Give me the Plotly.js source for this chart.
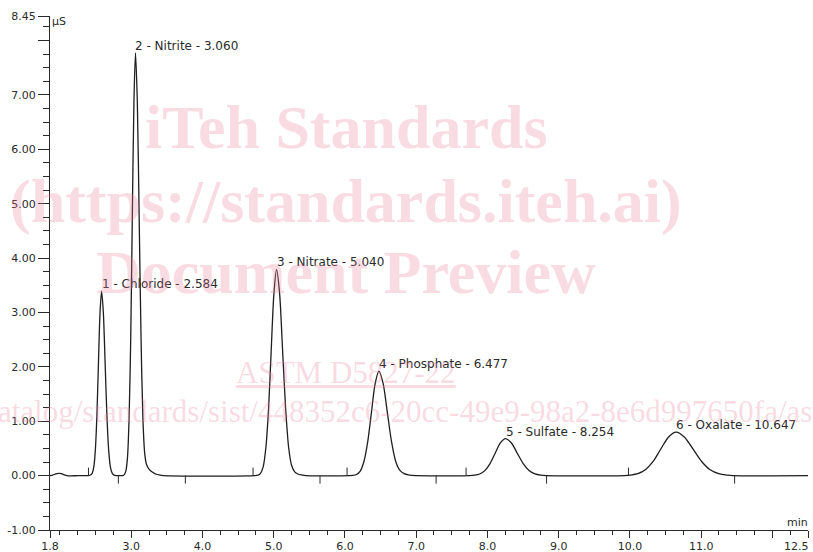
<!DOCTYPE html>
<html><head><meta charset="utf-8">
<script src="https://cdn.plot.ly/plotly-3.0.1.min.js"></script>
<style>html,body{margin:0;padding:0;background:#fff}#chart{width:813px;height:552px}</style>
</head><body><div id="chart"></div>
<script>
// Retention time (min) and conductivity (µS)
const timeMin = [1.86,1.90,1.94,1.98,2.02,2.06,2.10,2.15,2.25,
  2.40,2.430,2.452,2.474,2.496,2.518,2.540,2.562,2.584,2.609,2.634,2.659,2.684,2.709,2.734,2.759,2.79,
  2.84,2.88,2.903,2.925,2.948,2.970,2.993,3.015,3.038,3.060,3.086,3.112,3.138,3.164,3.190,3.216,3.25,3.30,3.35,3.40,3.45,
  4.74,4.778,4.815,4.853,4.890,4.928,4.965,5.003,5.040,5.083,5.125,5.168,5.210,5.253,5.295,5.338,5.40,5.45,
  6.06,6.110,6.162,6.215,6.267,6.320,6.372,6.425,6.477,6.536,6.595,6.654,6.713,6.772,6.831,6.890,6.95,7.00,
  7.75,7.819,7.892,7.964,8.037,8.109,8.182,8.254,8.337,8.419,8.502,8.584,8.667,8.749,8.83,
  9.93,10.002,10.110,10.217,10.325,10.432,10.540,10.647,10.767,10.887,11.007,11.127,11.247,11.367,11.45,
  12.5];
const signalUS = [0,0.01,0.03,0.04,0.035,0.015,0,-0.005,0,
  0,0.01,0.04,0.15,0.46,1.10,2.06,2.99,3.39,2.99,2.06,1.10,0.46,0.15,0.04,0.01,0,
  0,0,0.017,0.086,0.34,1.05,2.52,4.71,6.86,7.77,6.86,4.71,2.52,1.05,0.40,0.20,0.12,0.06,0.025,0.01,0,
  0,0.008,0.042,0.166,0.513,1.23,2.30,3.345,3.79,3.345,2.30,1.23,0.513,0.18,0.07,0.03,0.01,0,
  0,0.004,0.021,0.084,0.26,0.623,1.164,1.694,1.92,1.694,1.164,0.623,0.26,0.095,0.035,0.012,0.004,0,
  0,0.0075,0.030,0.092,0.221,0.412,0.60,0.68,0.60,0.412,0.221,0.092,0.030,0.0075,0,
  0,0.009,0.035,0.108,0.26,0.485,0.706,0.80,0.706,0.485,0.26,0.108,0.035,0.009,0,
  0];

const peakNames = ["Chloride","Nitrite","Nitrate","Phosphate","Sulfate","Oxalate"];
const peakTimes = [2.584,3.060,5.040,6.477,8.254,10.647];
const peakHeights = [3.39,7.77,3.79,1.92,0.68,0.80];
const peakStartTimes = [2.40,4.71,6.03,7.70,9.98];
const peakEndTimes = [2.82,3.76,5.65,7.28,8.83,11.47];

const xTickVals = [1.86,3,4,5,6,7,8,9,10,11,12,12.5];
const xTickText = ["1.8","3.0","4.0","5.0","6.0","7.0","8.0","9.0","10.0","11.0","",""];
const yTickVals = [8.45,8,7,6,5,4,3,2,1,0,-1];
const yTickText = ["8.45","","7.00","6.00","5.00","4.00","3.00","2.00","1.00","0.00","-1.00"];

const ink = '#2a2a2a';
const tickFont = {family:'DejaVu Sans, sans-serif', size:11, color:ink};
const wmColor = 'rgba(232,125,155,0.28)';

const trace = {
  x: timeMin, y: signalUS, type:'scatter', mode:'lines',
  line:{color:'#1e1e1e', width:1.3, shape:'spline', smoothing:0.8},
  hoverinfo:'skip'
};

const annotations = [];
peakNames.forEach((n,i)=>{
  annotations.push({x:peakTimes[i], y:peakHeights[i], xref:'x', yref:'y',
    text:(i+1)+' - '+n+' - '+peakTimes[i].toFixed(3), showarrow:false,
    xanchor:'left', yanchor:'middle', xshift:-2, yshift:7,
    font:{family:'DejaVu Sans, sans-serif', size:12, color:ink}});
});
annotations.push({xref:'paper', yref:'paper', x:0, y:1, text:'µS', showarrow:false,
  xanchor:'left', yanchor:'middle', xshift:0, yshift:-5, font:tickFont});
annotations.push({xref:'paper', yref:'paper', x:1, y:0, text:'min', showarrow:false,
  xanchor:'right', yanchor:'middle', xshift:2, yshift:8, font:tickFont});
annotations.push({xref:'paper', yref:'paper', x:1, y:0, text:'12.5', showarrow:false,
  xanchor:'right', yanchor:'middle', xshift:3, yshift:-16, font:tickFont});

// watermark
const wmBig = {family:'Liberation Serif, serif', size:62, color:wmColor};
const wmSmall = {family:'Liberation Serif, serif', size:31, color:wmColor};
annotations.push({xref:'paper', yref:'paper', x:0.391, y:0.784, text:'<b>iTeh Standards</b>', showarrow:false, xanchor:'center', yanchor:'middle', font:wmBig});
annotations.push({xref:'paper', yref:'paper', x:0.391, y:0.640, text:'<b>(https://standards.iteh.ai)</b>', showarrow:false, xanchor:'center', yanchor:'middle', font:wmBig});
annotations.push({xref:'paper', yref:'paper', x:0.391, y:0.502, text:'<b>Document Preview</b>', showarrow:false, xanchor:'center', yanchor:'middle', font:wmBig});
annotations.push({xref:'paper', yref:'paper', x:0.390, y:0.306, text:'<span style="text-decoration:underline">ASTM D5827-22</span>', showarrow:false, xanchor:'center', yanchor:'middle', font:wmSmall});
annotations.push({xref:'paper', yref:'paper', x:0.371, y:0.2296, text:'https://standards.iteh.ai/catalog/standards/sist/448352c6-20cc-49e9-98a2-8e6d997650fa/astm-d5827-22', showarrow:false, xanchor:'center', yanchor:'middle', font:wmSmall});

const shapes = [];
peakStartTimes.forEach(t=>shapes.push({type:'line', xref:'x', yref:'y', ysizemode:'pixel', yanchor:0,
  x0:t, x1:t, y0:0, y1:8, line:{color:ink, width:1}}));
peakEndTimes.forEach(t=>shapes.push({type:'line', xref:'x', yref:'y', ysizemode:'pixel', yanchor:0,
  x0:t, x1:t, y0:0, y1:-8, line:{color:ink, width:1}}));

const layout = {
  width:813, height:552,
  margin:{l:50, r:5, t:16, b:22, pad:0},
  paper_bgcolor:'#ffffff', plot_bgcolor:'#ffffff',
  showlegend:false,
  xaxis:{range:[1.86,12.5], showgrid:false, zeroline:false, showline:true, linecolor:ink, linewidth:1,
    ticks:'outside', ticklen:7, tickwidth:1, tickcolor:ink,
    tickmode:'array', tickvals:xTickVals, ticktext:xTickText, tickfont:tickFont,
    ticklabelstandoff:-1,
    minor:{ticks:'outside', ticklen:4, tickmode:'linear', tick0:0, dtick:0.25, tickcolor:ink, tickwidth:1, showgrid:false},
    fixedrange:true},
  yaxis:{range:[-1,8.45], showgrid:false, zeroline:false, showline:true, linecolor:ink, linewidth:1,
    ticks:'outside', ticklen:11, tickwidth:1, tickcolor:ink,
    tickmode:'array', tickvals:yTickVals, ticktext:yTickText, tickfont:tickFont,
    minor:{ticks:'outside', ticklen:6, tickmode:'linear', tick0:0, dtick:0.25, tickcolor:ink, tickwidth:1, showgrid:false},
    fixedrange:true},
  annotations:annotations,
  shapes:shapes
};

Plotly.newPlot('chart', [trace], layout, {staticPlot:true, displayModeBar:false});
</script>
</body></html>
